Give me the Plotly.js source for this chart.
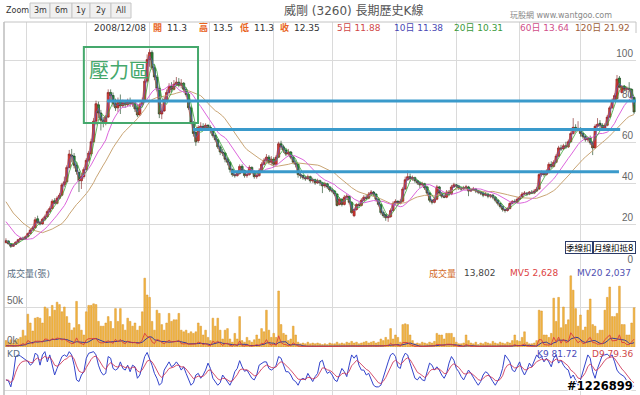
<!DOCTYPE html>
<html><head><meta charset="utf-8">
<script src="https://cdn.plot.ly/plotly-3.0.1.min.js"></script>
<style>html,body{margin:0;padding:0;background:#fff;}#c{width:640px;height:395px;}</style>
</head><body><div id="c"></div>
<script>
// ---- weekly candles (from 2008/12/08) ----
const openP=[11.3,12.2,10.8,9.6,10.5,11.6,12.8,13.6,13.0,14.2,15.8,17.5,18.6,23.0,21.3,20.5,22.8,24.0,26.5,28.0,31.8,30.5,33.0,34.5,39.5,41.0,48.0,54.0,53.5,49.0,45.5,41.5,43.5,47.0,51.5,54.5,60.5,70.5,78.5,74.5,71.0,69.5,72.5,84.5,83.0,79.0,77.0,80.0,78.0,79.5,78.5,80.0,79.0,79.5,77.0,73.5,78.5,80.5,90.0,100.5,104.0,96.5,92.0,86.5,74.0,75.5,81.0,84.5,87.5,86.0,88.5,89.5,88.0,89.0,86.0,83.5,77.0,70.0,65.0,61.0,67.5,68.0,67.0,68.5,67.5,66.0,63.5,61.5,58.0,55.5,55.0,52.0,50.5,47.0,44.5,44.0,45.0,48.5,46.5,44.0,44.5,48.0,46.0,43.5,44.0,46.5,49.5,51.5,53.0,50.5,52.0,49.5,53.0,59.5,58.0,56.5,54.5,55.5,53.0,50.5,49.5,44.5,44.0,43.0,42.5,43.5,41.5,42.0,40.5,41.5,40.5,39.0,40.0,38.5,37.0,36.5,35.0,30.0,32.5,30.0,33.5,34.0,31.0,24.5,27.5,30.0,29.5,32.0,33.5,33.0,35.0,36.0,35.0,32.5,30.0,26.0,25.0,23.5,24.0,27.0,30.5,31.5,30.5,31.5,37.5,42.0,43.5,42.5,43.0,41.5,40.5,39.5,40.0,38.5,35.5,32.0,31.0,32.5,38.5,35.5,34.0,33.5,36.0,35.0,38.5,39.5,39.0,38.0,37.5,38.0,38.5,36.5,37.0,37.5,36.5,36.0,35.5,34.5,35.0,34.0,34.5,33.5,32.0,30.5,29.0,27.5,27.0,28.0,30.5,31.5,31.0,32.5,33.5,35.0,35.5,35.0,36.0,35.5,36.5,37.5,44.5,45.5,44.5,45.5,49.5,48.5,50.5,53.5,57.5,57.0,58.5,58.0,60.5,64.5,67.5,66.0,67.0,64.5,63.0,61.5,62.5,60.0,57.5,68.0,69.5,68.5,67.0,68.5,72.5,77.0,80.5,81.5,91.5,84.5,87.5,86.0,86.5,86.0,82.0];
const highP=[13.5,12.5,11.0,11.0,12.0,13.2,14.2,14.3,14.8,16.3,18.2,19.5,23.8,24.5,22.0,23.5,25.0,27.5,29.0,32.5,33.0,34.0,35.5,40.5,43.5,49.0,56.5,57.0,55.0,50.5,46.5,45.0,48.0,52.5,56.0,62.0,72.0,80.5,80.0,76.0,72.5,73.5,86.0,86.0,84.5,81.5,82.0,83.5,81.0,80.5,81.5,82.0,80.5,80.5,79.0,79.5,82.0,91.0,103.0,105.5,105.0,98.0,93.0,87.5,79.0,82.5,86.0,89.0,89.5,90.5,92.0,91.5,91.0,89.5,87.0,84.5,78.0,70.5,66.0,68.5,70.0,69.5,69.5,69.0,68.5,67.0,64.5,62.0,59.0,57.0,55.5,53.0,51.0,47.5,46.0,46.5,49.5,49.5,47.0,45.5,49.0,48.5,46.5,45.0,47.5,50.5,52.5,54.5,54.0,53.5,53.0,54.0,60.5,61.0,59.0,57.5,57.0,56.0,53.5,51.5,50.0,45.5,44.5,44.0,44.5,44.0,43.0,42.5,42.5,42.0,41.0,41.0,40.5,39.0,38.0,37.0,35.5,33.5,33.0,34.5,35.0,34.5,31.5,28.0,30.5,31.0,33.0,34.5,35.0,36.0,37.0,36.5,35.5,33.0,30.5,27.0,25.5,25.0,28.0,31.5,32.5,32.0,32.5,38.5,43.5,46.5,45.0,44.0,43.5,42.0,41.0,41.0,40.5,39.0,36.0,32.5,33.5,39.5,39.0,36.0,35.0,37.0,37.0,39.5,40.5,40.0,39.5,38.5,39.0,39.5,39.0,38.0,38.5,38.0,37.0,36.5,36.0,36.0,35.5,35.0,35.0,34.0,32.5,31.0,29.5,28.0,28.5,31.0,32.0,32.5,33.5,34.0,36.0,36.5,36.0,36.5,37.0,37.5,38.5,45.5,46.5,46.0,47.0,50.5,51.0,51.5,54.5,58.5,59.0,59.5,60.5,61.5,65.5,72.0,69.0,70.5,67.5,65.5,64.0,63.0,63.5,60.5,69.0,72.0,71.0,69.5,69.5,73.5,78.0,81.5,84.0,93.0,92.5,88.0,88.0,87.5,89.5,86.5,82.5];
const lowP=[11.3,10.5,8.8,9.3,10.2,11.3,12.5,12.6,12.8,14.0,15.5,17.0,18.3,20.5,19.8,20.2,22.0,23.5,25.8,27.5,30.0,30.0,32.5,34.0,38.5,40.5,47.5,50.5,47.5,44.5,36.0,37.5,42.5,46.5,50.5,53.5,60.0,68.5,72.0,66.0,67.5,68.5,72.0,80.0,77.5,75.5,75.0,74.0,77.0,77.0,77.5,77.5,77.5,75.0,72.5,73.0,77.5,80.0,89.0,97.0,95.5,90.5,85.0,72.0,71.5,75.0,80.0,83.5,84.5,85.5,87.5,87.0,86.5,84.5,82.5,76.0,69.0,63.0,58.5,60.0,66.0,66.0,66.5,66.0,64.5,62.5,60.5,57.0,54.0,53.5,50.5,49.0,45.5,43.5,43.0,43.5,44.5,45.5,43.0,43.0,44.0,45.0,42.5,42.5,43.5,46.0,49.0,50.5,49.5,49.0,48.0,49.0,52.5,56.5,55.0,53.5,53.5,52.0,49.5,48.0,43.0,42.5,42.0,41.5,42.0,40.5,40.5,39.5,40.0,39.0,35.5,38.0,37.5,36.0,35.5,34.0,29.0,29.5,29.0,29.5,32.5,30.0,25.5,23.8,27.0,28.5,29.0,31.5,32.0,32.5,34.5,34.0,31.5,29.0,25.0,23.5,22.0,21.5,23.5,26.5,29.5,29.5,30.0,31.0,37.0,41.5,41.0,41.5,40.5,39.5,38.0,38.5,37.0,34.5,31.0,30.0,30.5,32.0,34.5,33.0,33.0,33.0,34.0,34.5,38.0,38.0,37.0,36.5,37.0,37.5,34.0,36.0,36.5,35.5,35.0,34.5,33.5,34.0,33.0,33.0,32.5,31.0,29.5,28.0,26.5,26.0,26.5,27.5,30.0,30.5,30.5,32.0,33.0,34.5,34.0,34.5,35.0,35.0,36.0,37.0,43.5,43.5,44.0,45.0,47.5,48.0,50.0,53.0,56.0,56.5,57.0,57.5,60.0,64.0,65.0,65.5,63.0,62.0,60.5,60.5,59.0,54.0,57.0,67.5,67.0,66.0,66.5,68.0,72.0,76.5,80.0,81.0,86.5,84.0,85.0,85.0,85.0,81.5,74.0];
const closeP=[12.35,10.8,9.6,10.5,11.6,12.8,13.5,13.0,14.2,15.8,17.5,18.6,22.5,21.2,20.5,22.8,24.0,26.5,28.0,31.5,30.5,33.0,34.5,39.5,41.0,48.0,54.5,53.5,49.0,46.0,41.5,43.5,47.0,51.5,55.0,60.5,70.5,79.0,74.5,71.0,69.5,72.5,84.5,83.0,79.0,77.0,80.0,78.0,79.5,78.5,80.0,79.0,79.5,76.5,73.5,78.5,80.5,90.0,100.5,104.0,96.5,92.0,86.5,74.0,75.5,81.0,84.5,87.5,86.0,88.5,89.5,88.0,89.0,86.0,83.5,77.0,70.0,64.5,60.5,67.5,68.0,67.0,68.5,67.5,66.0,63.5,61.5,58.0,55.5,55.0,52.0,50.5,47.0,44.5,44.0,45.0,48.5,46.5,44.0,44.5,48.0,46.0,43.5,44.0,46.5,49.5,51.5,53.0,50.5,52.0,49.5,53.0,59.5,58.0,56.5,54.5,55.5,53.0,50.5,49.5,44.5,44.0,43.0,42.5,43.5,41.5,42.0,40.5,41.5,40.5,39.0,40.0,38.5,37.0,36.5,35.0,29.5,32.5,30.0,33.5,34.0,31.0,26.0,27.5,30.0,29.5,32.0,33.5,33.0,35.0,36.0,35.0,32.5,30.0,26.0,24.5,23.5,24.0,27.0,30.5,31.5,30.5,31.5,37.5,42.0,43.5,42.5,43.0,41.5,40.5,39.5,40.0,38.0,35.5,32.0,31.0,32.5,38.5,35.5,34.0,33.5,36.0,35.0,38.5,39.5,39.0,38.0,37.5,38.0,38.5,36.5,37.0,37.5,36.5,36.0,35.5,34.5,35.0,34.0,34.5,33.5,32.0,30.5,29.0,27.5,27.0,28.0,30.5,31.5,31.0,32.5,33.5,35.0,35.5,35.0,36.0,35.5,36.5,37.5,44.5,45.5,44.5,45.5,49.5,48.5,50.5,53.5,57.5,57.0,58.5,58.0,60.5,64.5,67.5,66.0,67.0,64.5,63.0,61.5,62.0,60.0,57.5,68.0,69.0,68.5,67.0,68.5,72.5,77.0,80.5,83.0,91.0,87.0,87.5,86.0,86.5,86.0,82.0,75.0];
// weekly volume (張)
const volume=[8000,6000,9000,5000,8000,10000,12000,21000,14000,41000,30000,20000,36000,37000,36000,30000,50000,48000,38000,52000,46000,56000,53000,44000,50000,38000,30000,21000,24000,57000,28000,21000,15000,44000,52000,52000,54000,53000,32000,26000,26000,30000,38000,32000,23000,48000,32000,48000,28000,21000,36000,32000,26000,30000,21000,26000,44000,86000,65000,62000,32000,21000,46000,42000,28000,21000,30000,42000,32000,34000,34000,42000,21000,19000,21000,17000,19000,17000,19000,30000,26000,15000,21000,12000,8000,36000,26000,36000,21000,10000,21000,23000,10000,6000,17000,10000,38000,8000,6000,12000,8000,6000,9000,15000,10000,23000,19000,46000,21000,12000,17000,12000,70000,28000,17000,15000,8000,10000,26000,15000,6000,4000,5000,4000,6000,4000,5000,4000,5000,4000,3000,4000,3000,5000,4000,4000,6000,4000,5000,4000,6000,5000,7000,5000,6000,4000,5000,6000,7000,5000,6000,7000,5000,6000,10000,8000,12000,9000,23000,10000,15000,12000,6000,28000,29000,28000,15000,8000,4000,5000,4000,6000,5000,4000,6000,5000,7000,17000,15000,15000,10000,17000,17000,17000,12000,6000,4000,4000,5000,15000,8000,5000,4000,6000,3000,5000,4000,6000,5000,4000,7000,5000,4000,6000,5000,4000,6000,5000,8000,15000,8000,7000,12000,19000,6000,4000,4000,5000,8000,46000,45000,15000,15000,12000,17000,61000,32000,62000,24000,50000,28000,34000,89000,71000,48000,26000,40000,21000,25000,46000,60000,28000,26000,17000,21000,21000,46000,62000,75000,38000,38000,42000,76000,28000,28000,15000,15000,30000,49000];
// KD: K9
const kLine=[27,25,10,39,84,88,85,80,76,72,63,68,92,88,63,88,96,71,88,59,39,55,71,84,88,84,96,88,63,27,23,39,47,80,92,94,96,88,63,47,39,43,84,80,55,51,55,71,55,51,63,47,63,59,31,39,63,84,94,80,63,43,31,14,20,51,63,71,59,63,71,63,51,59,43,30,14,20,39,43,31,39,51,68,55,31,23,14,20,39,31,22,14,27,47,55,74,59,48,51,40,31,27,39,63,68,71,71,55,51,55,63,84,80,63,47,47,39,27,23,14,27,31,27,43,31,23,35,43,71,75,55,43,47,39,27,23,39,55,47,35,63,88,80,88,63,51,51,39,43,27,14,10,10,14,35,51,71,88,92,84,59,55,80,92,88,68,47,31,27,35,27,25,47,68,63,51,59,51,39,31,43,68,84,75,55,47,35,27,39,51,43,31,23,14,23,39,47,43,31,23,14,23,35,55,88,80,71,51,47,59,71,51,39,51,68,59,75,88,80,84,71,80,71,59,80,88,68,75,63,55,51,31,39,27,14,27,47,63,88,80,47,31,55,71,88,88,90,84,88,71,51,43,39,35,25,14,10,12];
const ma60LeadIdx=[0,2,4,6,8,10], ma60LeadVal=[21.6,18.5,15.5,13.8,12.9,13.2];
const ma120LeadIdx=[0,3,7,11,15,19], ma120LeadVal=[31.3,25.8,20.9,17.5,16.2,18.0];
// resistance levels & box (hand-drawn annotations on the original)
const levels=[{y:80.3,from:41.5,to:258.8},{y:66.5,from:76.8,to:252.3},{y:45.9,from:92.4,to:251.8}];
const boxX=[32.0,78.9], boxY=[69.6,106.6];
const priceTicks=[0,20,40,60,80,100];
const gridWeeks=[8.5,33,59,83.5,110,134,160.5,185,211,236];

const idx=closeP.map((_,i)=>i);
function sma(a,n){return a.map((_,i)=>{const s=a.slice(Math.max(0,i-n+1),i+1);return s.reduce((p,q)=>p+q,0)/s.length;});}
const ma2=sma(closeP,2), ma4=sma(closeP,4);
const ma12=sma(closeP,12), ma24=sma(closeP,24);
const ma60X=ma60LeadIdx.concat(idx.slice(11)), ma60Y=ma60LeadVal.concat(ma12.slice(11));
const ma120X=ma120LeadIdx.concat(idx.slice(23)), ma120Y=ma120LeadVal.concat(ma24.slice(23));
const mv5=volume.map(v=>v/5);               // weekly -> daily average
const mv20=sma(volume,4).map(v=>v/5);
const dLine=[]; kLine.forEach((k,i)=>dLine.push(i?dLine[i-1]*2/3+k/3:k));

const W=640,H=395,L=4,R=4,T=22,B=0,PW=W-L-R,PH=H-T-B;
const px=x=>(x-L)/PW, py=y=>(H-B-y)/PH;
const FONT='DejaVu Sans, Noto Sans CJK TC, sans-serif';
const ann=[];
function txt(x,y,t,c,s,o){ann.push(Object.assign({xref:'paper',yref:'paper',x:px(x),y:py(y),text:t,showarrow:false,xanchor:'left',yanchor:'middle',font:{family:FONT,size:s||9,color:c||'#444'}},o||{}));}
const shapes=[];
// zoom buttons
const btn=[['3m',30,50],['6m',50,72],['1y',72,90],['2y',90,111],['All',111,131]];
btn.forEach(b=>{shapes.push({type:'rect',xref:'paper',yref:'paper',x0:px(b[1]),x1:px(b[2]),y0:py(18),y1:py(3),fillcolor:'#f0f0f0',line:{color:'#c6c6c6',width:1}});
 txt((b[1]+b[2])/2,10.5,b[0],'#333',8,{xanchor:'center'});});
txt(4,10.5,'Zoom','#333',8);
txt(354,11,'威剛 (3260) 長期歷史K線','#555',12,{xanchor:'center'});
txt(508,15,'玩股網 www.wantgoo.com','#888',8);
// header row
const hy=27.5;
txt(92,hy,'2008/12/08','#333',9);
[['開',151,'11.3'],['高',196.5,'13.5'],['低',237.5,'11.3'],['收',277.5,'12.35']].forEach(h=>{txt(h[1],hy,'<b>'+h[0]+'</b>','#e8641e',9);txt(h[1]+14,hy,h[2],'#333',9);});
txt(335,hy,'5日 11.88','#d04848',9);
txt(391.5,hy,'10日 11.38','#4a4ab4',9);
txt(451.5,hy,'20日 10.31','#3a9a3a',9);
txt(518,hy,'60日 13.64','#d0508a',9);
txt(573,hy,'120日 21.92','#a0603a',9);
// volume legend
txt(5,273,'成交量(張)','#5a6e82',9);
txt(427,273,'成交量','#d2691e',9);
txt(462,273,'13,802','#444',9);
txt(508,273,'MV5 2,628','#dd4444',9);
txt(575,273,'MV20 2,037','#5050b0',9);
txt(5,354,'KD','#5a6e82',9);
txt(535,354,'K9 81.72','#4a4ab8',9);
txt(590,354,'D9 79.36','#d04848',9);
txt(635,386,'<b>#1226899</b>','#000',11.5,{xanchor:'right',font:{family:FONT,size:11.5,color:'#000',shadow:'1px 1px 0 #fff, -1px -1px 0 #fff, 1px -1px 0 #fff, -1px 1px 0 #fff'}});
// flags
ann.push({xref:'paper',yref:'paper',x:px(565),y:py(248),xanchor:'left',yanchor:'middle',text:'季線扣',width:26,height:11,align:'left',showarrow:false,bgcolor:'#fff',bordercolor:'#2b3a67',borderwidth:1,borderpad:0,font:{family:FONT,size:8.5,color:'#000'}});
ann.push({xref:'paper',yref:'paper',x:px(593),y:py(248),xanchor:'left',yanchor:'middle',text:'月線扣抵8',width:41,height:11,align:'left',showarrow:false,bgcolor:'#fff',bordercolor:'#2b3a67',borderwidth:1,borderpad:0,font:{family:FONT,size:8.5,color:'#000'}});
// pressure zone
shapes.push({type:'rect',xref:'x',yref:'y',x0:boxX[0],x1:boxX[1],y0:boxY[0],y1:boxY[1],line:{color:'#45a86c',width:2},fillcolor:'rgba(0,0,0,0)'});
txt(87,69,'壓力區','#45a86c',20,{font:{family:'Noto Sans CJK TC, sans-serif',size:20,color:'#45a86c'}});
levels.forEach(l=>shapes.push({type:'line',xref:'x',yref:'y',x0:l.from,x1:l.to,y0:l.y,y1:l.y,line:{color:'#3a9acb',width:3}}));
// frame
shapes.push({type:'line',xref:'paper',yref:'paper',x0:0,x1:1,y0:1,y1:1,line:{color:'#c4c4c4',width:1}});
shapes.push({type:'line',xref:'paper',yref:'paper',x0:0,x1:0,y0:0,y1:1,line:{color:'#bdbdbd',width:1.5}});
shapes.push({type:'line',xref:'paper',yref:'paper',x0:1,x1:1,y0:py(33),y1:1,line:{color:'#c4c4c4',width:1}});

const traces=[
 {type:'candlestick',x:idx,open:openP,high:highP,low:lowP,close:closeP,xaxis:'x',yaxis:'y',whiskerwidth:0,
  increasing:{line:{color:'#7a1616',width:0.6},fillcolor:'#dc3a32'},decreasing:{line:{color:'#0e3a14',width:0.6},fillcolor:'#2f8a3c'},hoverinfo:'skip',showlegend:false},
 {type:'scatter',mode:'lines',x:ma120X,y:ma120Y,line:{color:'#c9a575',width:1},yaxis:'y',hoverinfo:'skip'},
 {type:'scatter',mode:'lines',x:ma60X,y:ma60Y,line:{color:'#dd66dd',width:1},yaxis:'y',hoverinfo:'skip'},
 {type:'scatter',mode:'lines',x:idx,y:ma4,line:{color:'#3aa83a',width:0.8},yaxis:'y',hoverinfo:'skip'},
 {type:'scatter',mode:'lines',x:idx,y:ma2,line:{color:'#5a5acc',width:0.7},yaxis:'y',hoverinfo:'skip'},
 {type:'scatter',mode:'lines',x:idx,y:closeP,line:{color:'#c04040',width:0.6},yaxis:'y',hoverinfo:'skip'},
 {type:'bar',x:idx,y:volume,yaxis:'y2',marker:{color:'#f3b843',line:{color:'#d9922a',width:0.5}},hoverinfo:'skip'},
 {type:'scatter',mode:'lines',x:idx,y:mv20,yaxis:'y2',line:{color:'#3a3a99',width:1},hoverinfo:'skip'},
 {type:'scatter',mode:'lines',x:idx,y:mv5,yaxis:'y2',line:{color:'#dd3b3b',width:0.9},hoverinfo:'skip'},
 {type:'scatter',mode:'lines',x:idx,y:kLine,yaxis:'y3',line:{color:'#3344cc',width:1},hoverinfo:'skip'},
 {type:'scatter',mode:'lines',x:idx,y:dLine,yaxis:'y3',line:{color:'#cc3355',width:1},opacity:0.85,hoverinfo:'skip'}
];
const grid='#dadada';
const layout={width:W,height:H,margin:{l:L,r:R,t:T,b:B},paper_bgcolor:'#fff',plot_bgcolor:'#fff',showlegend:false,bargap:0.3,boxgap:0.12,boxgroupgap:0,
 font:{family:FONT,size:9,color:'#666'},
 xaxis:{range:[-0.8,258.8],tickvals:gridWeeks,showticklabels:false,showgrid:true,gridcolor:grid,zeroline:false,rangeslider:{visible:false},anchor:'y3',fixedrange:true,ticks:''},
 yaxis:{domain:[py(266),1],range:[0,(266-22)/2.054],side:'right',tickvals:priceTicks,ticklabelposition:'inside top',showgrid:true,gridcolor:grid,zeroline:false,tickfont:{family:'Liberation Sans, sans-serif',size:10,color:'#666'},ticks:''},
 yaxis2:{domain:[py(347),py(266)],range:[0,(347-266)*1250],side:'left',tickvals:[0,50000],ticktext:['0k','50k'],ticklabelposition:'inside top',showgrid:true,gridcolor:grid,zeroline:false,tickfont:{family:'Liberation Sans, sans-serif',size:10,color:'#666'},ticks:''},
 yaxis3:{domain:[0,py(347)],range:[-9.8,107.3],tickvals:[0],showticklabels:false,showgrid:true,gridcolor:grid,zeroline:false},
 shapes:shapes,annotations:ann};
Plotly.newPlot('c',traces,layout,{staticPlot:true,displayModeBar:false});
</script></body></html>
